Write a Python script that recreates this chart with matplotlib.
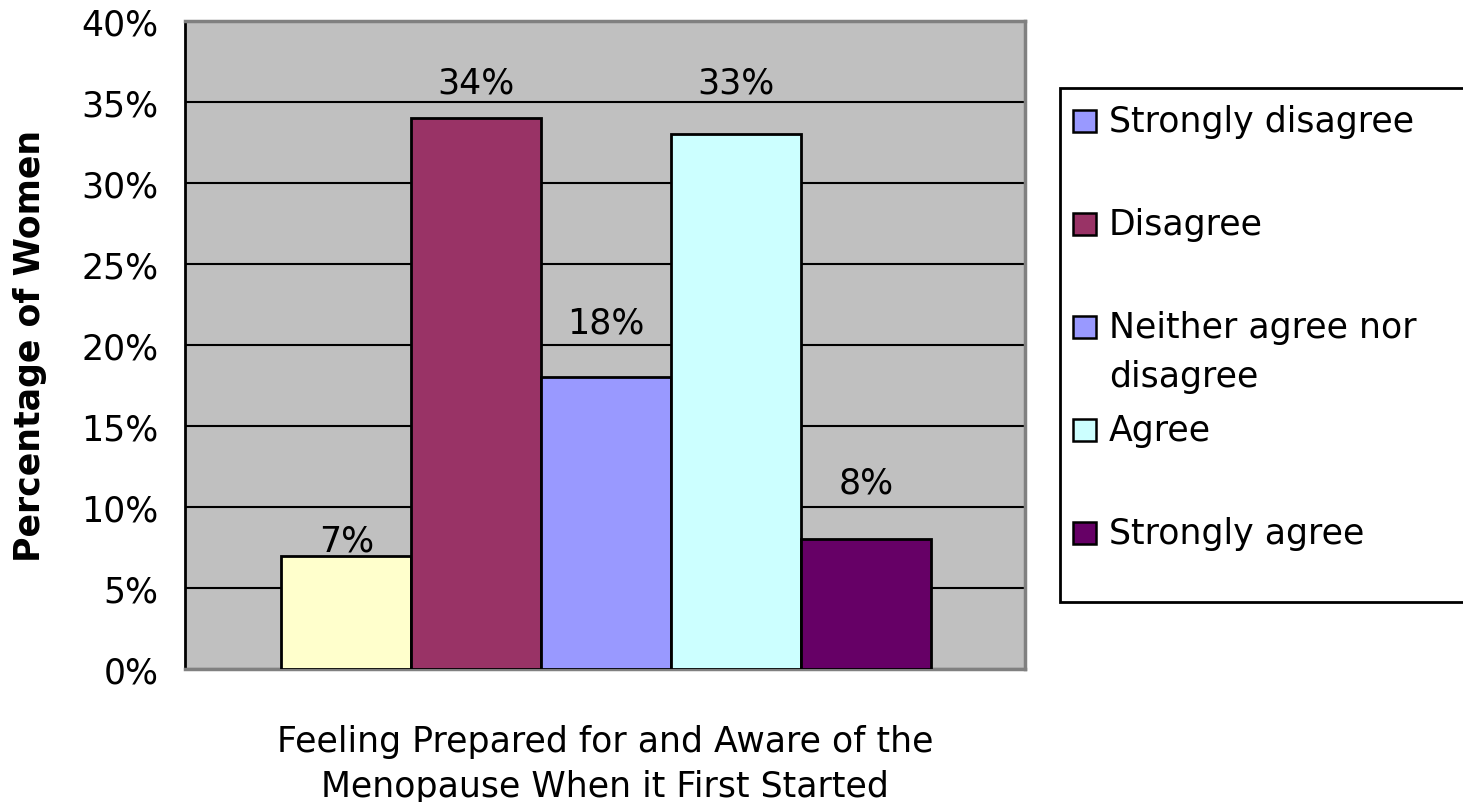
import matplotlib.pyplot as plt
from matplotlib.patches import Rectangle

# Survey responses (percentage of women)
responses = ['Strongly disagree', 'Disagree', 'Neither agree nor\ndisagree',
             'Agree', 'Strongly agree']
percent = [7, 34, 18, 33, 8]
bar_colors = ['#FFFFCC', '#993366', '#9999FF', '#CCFFFF', '#660066']
legend_colors = ['#9999FF', '#993366', '#9999FF', '#CCFFFF', '#660066']
label_lift = [0.95, 2.2, 3.4, 3.2, 3.5]  # where each value label sits above its bar
y_ticks = [0, 5, 10, 15, 20, 25, 30, 35, 40]

FS = 25
W, H = 1463, 803
plt.rcParams['font.family'] = 'DejaVu Sans'
fig = plt.figure(figsize=(W / 100, H / 100), dpi=100)

ax = fig.add_axes([185 / W, 1 - 670 / H, (1025 - 185) / W, (670 - 22) / H])
ax.set_facecolor('#C0C0C0')

xs = list(range(len(percent)))
ax.bar(xs, percent, width=1.0, color=bar_colors, edgecolor='black',
       linewidth=2.0, zorder=3)
for x, v, lift in zip(xs, percent, label_lift):
    ax.text(x, v + lift, f'{v}%', ha='center', va='center', fontsize=FS,
            zorder=4)

ax.set_xlim(-1.24, 5.22)
ax.set_ylim(0, 40)
ax.set_yticks(y_ticks)
ax.set_yticklabels([f'{t}%' for t in y_ticks], fontsize=FS)
ax.set_xticks([])
ax.tick_params(axis='y', length=0, pad=19)
ax.yaxis.grid(True, color='black', linewidth=1.5, zorder=1)
ax.set_axisbelow(True)

for side in ['top', 'right', 'bottom']:
    ax.spines[side].set_color('#808080')
    ax.spines[side].set_linewidth(2.5)
ax.spines['left'].set_color('black')
ax.spines['left'].set_linewidth(2.0)

ax.set_ylabel('Percentage of Women', fontsize=25, fontweight='bold',
              va='center')
ax.yaxis.set_label_coords(-(185 - 30) / 840, 0.5)

fig.text(605 / W, 1 - 742 / H, 'Feeling Prepared for and Aware of the',
         ha='center', va='center', fontsize=FS)
fig.text(605 / W, 1 - 787 / H, 'Menopause When it First Started',
         ha='center', va='center', fontsize=FS)

# legend box, drawn by hand in pixel units
def px(x, y):
    return x / W, 1 - y / H

bx0, by0 = px(1060, 603)
bx1, by1 = px(1475, 89)
fig.patches.append(Rectangle((bx0, by0), bx1 - bx0, by1 - by0,
                             transform=fig.transFigure, facecolor='white',
                             edgecolor='black', linewidth=2.0))
row_y = [122, 225, 328, 431, 534]
for name, col, yy in zip(responses, legend_colors, row_y):
    mx, my = px(1073, yy + 11)
    fig.patches.append(Rectangle((mx, my), 23 / W, 22 / H,
                                 transform=fig.transFigure, facecolor=col,
                                 edgecolor='black', linewidth=1.8))
    for i, line in enumerate(name.split('\n')):
        tx, ty = px(1109, yy + 49 * i)
        fig.text(tx, ty, line, ha='left', va='center', fontsize=FS)

fig.savefig('out.png', dpi=100)
